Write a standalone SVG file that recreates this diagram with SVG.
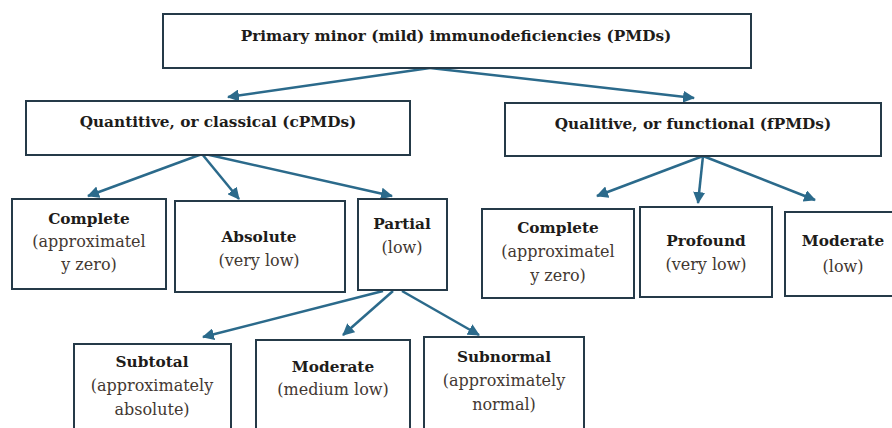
<svg xmlns="http://www.w3.org/2000/svg" width="892" height="428" viewBox="0 0 892 428">
<style>
.box{fill:#fff;stroke:#253a48;stroke-width:2}
.t{font-family:"DejaVu Serif","Liberation Serif",serif;font-weight:bold;fill:#1e1c1a;text-anchor:middle}
.s{font-family:"DejaVu Serif","Liberation Serif",serif;fill:#433832;text-anchor:middle;font-size:16px}
.h{font-size:15.3px}
.c{stroke:#2b6a8b;stroke-width:2.5;fill:none;marker-end:url(#ah)}
</style>
<defs>
<marker id="ah" viewBox="0 0 12 12" refX="11" refY="6" markerWidth="12" markerHeight="12" markerUnits="userSpaceOnUse" orient="auto">
<path d="M0,0 L12,6 L0,12 Z" fill="#2b6a8b"/>
</marker>
</defs>
<rect width="892" height="428" fill="#fff"/>
<g id="connectors">
<line class="c" x1="430" y1="68" x2="228" y2="97"/>
<line class="c" x1="430" y1="68" x2="694" y2="98"/>
<line class="c" x1="202" y1="154" x2="88" y2="196"/>
<line class="c" x1="202" y1="154" x2="239" y2="199"/>
<line class="c" x1="205" y1="154" x2="392" y2="196"/>
<line class="c" x1="703" y1="156" x2="597" y2="196"/>
<line class="c" x1="703" y1="156" x2="698" y2="203"/>
<line class="c" x1="703" y1="156" x2="815" y2="200"/>
<line class="c" x1="383" y1="291" x2="203" y2="337"/>
<line class="c" x1="393" y1="291" x2="343" y2="335"/>
<line class="c" x1="402" y1="291" x2="479" y2="335"/>
</g>
<g id="root">
<rect class="box" x="163" y="14" width="588" height="54"/>
<text class="t h" x="456" y="41">Primary minor (mild) immunodeficiencies (PMDs)</text>
</g>
<g id="cpmd">
<rect class="box" x="26" y="101" width="384" height="54"/>
<text class="t h" x="218" y="127">Quantitive, or classical (cPMDs)</text>
</g>
<g id="fpmd">
<rect class="box" x="505" y="103" width="376" height="53"/>
<text class="t h" x="693" y="129">Qualitive, or functional (fPMDs)</text>
</g>
<g id="c-complete">
<rect class="box" x="12" y="199" width="154" height="90"/>
<text class="t h" x="89" y="224">Complete</text>
<text class="s" x="89" y="247">(approximatel</text>
<text class="s" x="89" y="270">y zero)</text>
</g>
<g id="c-absolute">
<rect class="box" x="175" y="201" width="170" height="91"/>
<text class="t h" x="259" y="242">Absolute</text>
<text class="s" x="259" y="266">(very low)</text>
</g>
<g id="c-partial">
<rect class="box" x="358" y="199" width="89" height="91"/>
<text class="t h" x="402" y="229">Partial</text>
<text class="s" x="402" y="253">(low)</text>
</g>
<g id="f-complete">
<rect class="box" x="482" y="209" width="152" height="89"/>
<text class="t h" x="558" y="233">Complete</text>
<text class="s" x="558" y="257">(approximatel</text>
<text class="s" x="558" y="281">y zero)</text>
</g>
<g id="f-profound">
<rect class="box" x="640" y="207" width="132" height="90"/>
<text class="t h" x="706" y="246">Profound</text>
<text class="s" x="706" y="270">(very low)</text>
</g>
<g id="f-moderate">
<rect class="box" x="785" y="212" width="110" height="84"/>
<text class="t h" x="843" y="246">Moderate</text>
<text class="s" x="843" y="272">(low)</text>
</g>
<g id="p-subtotal">
<rect class="box" x="74" y="344" width="157" height="90"/>
<text class="t h" x="152" y="367">Subtotal</text>
<text class="s" x="152" y="391">(approximately</text>
<text class="s" x="152" y="415">absolute)</text>
</g>
<g id="p-moderate">
<rect class="box" x="256" y="340" width="154" height="94"/>
<text class="t h" x="333" y="372">Moderate</text>
<text class="s" x="333" y="395">(medium low)</text>
</g>
<g id="p-subnormal">
<rect class="box" x="424" y="337" width="160" height="97"/>
<text class="t h" x="504" y="362">Subnormal</text>
<text class="s" x="504" y="386">(approximately</text>
<text class="s" x="504" y="410">normal)</text>
</g>
</svg>
